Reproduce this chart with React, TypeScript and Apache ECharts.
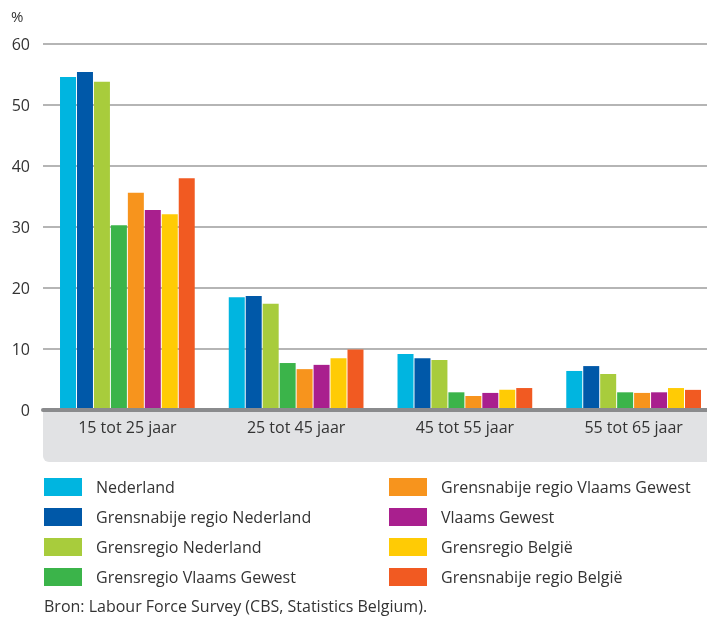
import React, { useEffect, useRef } from "react";
import * as echarts from "echarts";

const categories = ["15 tot 25 jaar", "25 tot 45 jaar", "45 tot 55 jaar", "55 tot 65 jaar"];
const seriesNames = [
  "Nederland",
  "Grensnabije regio Nederland",
  "Grensregio Nederland",
  "Grensregio Vlaams Gewest",
  "Grensnabije regio Vlaams Gewest",
  "Vlaams Gewest",
  "Grensregio België",
  "Grensnabije regio België",
];
const nederland = [54.6, 18.5, 9.2, 6.4];
const grensnabijeNederland = [55.4, 18.7, 8.5, 7.2];
const grensregioNederland = [53.8, 17.4, 8.2, 5.9];
const grensregioVlaams = [30.3, 7.7, 2.9, 2.9];
const grensnabijeVlaams = [35.6, 6.7, 2.3, 2.8];
const vlaamsGewest = [32.8, 7.4, 2.8, 2.9];
const grensregioBelgie = [32.1, 8.5, 3.3, 3.6];
const grensnabijeBelgie = [38.0, 9.9, 3.6, 3.3];
const seriesValues = [
  nederland,
  grensnabijeNederland,
  grensregioNederland,
  grensregioVlaams,
  grensnabijeVlaams,
  vlaamsGewest,
  grensregioBelgie,
  grensnabijeBelgie,
];
const colors = ["#00b5e0", "#0058a8", "#a8cc3c", "#3bb44a", "#f7941d", "#a91f8e", "#ffcb05", "#f15a22"];
const sourceText = "Bron: Labour Force Survey (CBS, Statistics Belgium).";

const FONT = "'Open Sans', sans-serif";

export default function App() {
  const ref = useRef<HTMLDivElement>(null);
  useEffect(() => {
    if (!ref.current) return;
    const chart = echarts.init(ref.current, undefined, { renderer: "svg" });
    const legendText = { color: "#333", fontSize: 16, fontFamily: FONT, padding: [0, 0, 0, 9] };
    chart.setOption({
      animation: false,
      color: colors,
      grid: {
        left: 43,
        top: 44,
        width: 675,
        height: 366,
        containLabel: false,
        outerBoundsMode: "none",
      },
      graphic: [
        {
          type: "rect",
          z: 0,
          shape: { x: 43, y: 412, width: 664, height: 50, r: [0, 0, 0, 6] },
          style: { fill: "#e1e2e4" },
        },
        {
          type: "text",
          x: 11,
          y: 8,
          style: { text: "%", fill: "#333", fontSize: 15, fontFamily: FONT },
        },
        {
          type: "text",
          x: 44,
          y: 598,
          style: { text: sourceText, fill: "#333", fontSize: 16, fontFamily: FONT },
        },
      ],
      legend: [
        {
          data: seriesNames.slice(0, 4),
          orient: "vertical",
          left: 44,
          top: 478,
          padding: 0,
          icon: "rect",
          itemWidth: 38,
          itemHeight: 18,
          itemGap: 12,
          textStyle: legendText,
        },
        {
          data: seriesNames.slice(4),
          orient: "vertical",
          left: 389,
          top: 478,
          padding: 0,
          icon: "rect",
          itemWidth: 38,
          itemHeight: 18,
          itemGap: 12,
          textStyle: legendText,
        },
      ],
      xAxis: {
        type: "category",
        data: categories,
        axisLine: { show: true, lineStyle: { color: "#8a8b8d", width: 4 } },
        axisTick: { show: false },
        axisLabel: { color: "#333", fontSize: 16, fontFamily: FONT, margin: 9 },
        z: 3,
      },
      yAxis: {
        type: "value",
        min: 0,
        max: 60,
        interval: 10,
        axisLine: { show: false },
        axisTick: { show: false },
        axisLabel: { color: "#333", fontSize: 16, fontFamily: FONT, margin: 13 },
        splitLine: { lineStyle: { color: "#b5b5b5", width: 2 } },
      },
      series: seriesNames.map((name, i) => ({
        name,
        type: "bar",
        data: seriesValues[i],
        barWidth: 16,
        barGap: "6%",
        itemStyle: { color: colors[i] },
      })),
    });
    return () => chart.dispose();
  }, []);
  return <div ref={ref} style={{ position: "fixed", left: 0, top: 0, width: 707, height: 617 }} />;
}
